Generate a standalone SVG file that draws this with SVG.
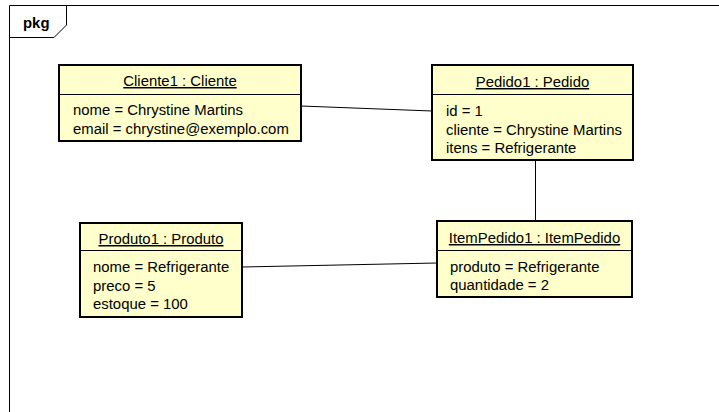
<svg xmlns="http://www.w3.org/2000/svg" width="719" height="412" viewBox="0 0 719 412">
<style>
text{font-family:"Liberation Sans",Arial,sans-serif;font-size:14.9px;fill:#000}
.box{fill:#FFFFCC;stroke:#000;stroke-width:2}
.div{stroke:#000;stroke-width:1}
.t{text-anchor:middle;text-decoration:underline}
.conn line{stroke:#000;stroke-width:1}
.frame{fill:none;stroke:#000;stroke-width:1}
</style>
<rect width="719" height="412" fill="#fff"/>
<g id="frame">
<path class="frame" d="M9.5,412 V5.5 H719"/>
<path class="frame" d="M66.5,5.5 V25 L54,37.5 H9.5"/>
<text x="23" y="28" style="font-weight:bold">pkg</text>
</g>
<g class="conn" id="connectors">
<line x1="301" y1="106" x2="432" y2="111"/>
<line x1="535.5" y1="161" x2="535.5" y2="221"/>
<line x1="242" y1="267" x2="437" y2="263"/>
</g>
<g id="cliente">
<rect class="box" x="59" y="65" width="242" height="76"/>
<line class="div" x1="59" y1="94.5" x2="301" y2="94.5"/>
<text class="t" x="180" y="86">Cliente1 : Cliente</text>
<text x="73" y="115">nome = Chrystine Martins</text>
<text x="73" y="134">email = chrystine@exemplo.com</text>
</g>
<g id="pedido">
<rect class="box" x="432" y="65" width="201" height="95"/>
<line class="div" x1="432" y1="94.5" x2="633" y2="94.5"/>
<text class="t" x="532.5" y="87">Pedido1 : Pedido</text>
<text x="446" y="116">id = 1</text>
<text x="446" y="135">cliente = Chrystine Martins</text>
<text x="446" y="153">itens = Refrigerante</text>
</g>
<g id="produto">
<rect class="box" x="80" y="223" width="162" height="94"/>
<line class="div" x1="80" y1="250.5" x2="242" y2="250.5"/>
<text class="t" x="161" y="244">Produto1 : Produto</text>
<text x="93" y="272">nome = Refrigerante</text>
<text x="93" y="291">preco = 5</text>
<text x="93" y="309">estoque = 100</text>
</g>
<g id="itempedido">
<rect class="box" x="437" y="221" width="195" height="76"/>
<line class="div" x1="437" y1="250.5" x2="632" y2="250.5"/>
<text class="t" x="534.5" y="243">ItemPedido1 : ItemPedido</text>
<text x="450" y="272">produto = Refrigerante</text>
<text x="450" y="290">quantidade = 2</text>
</g>
</svg>
